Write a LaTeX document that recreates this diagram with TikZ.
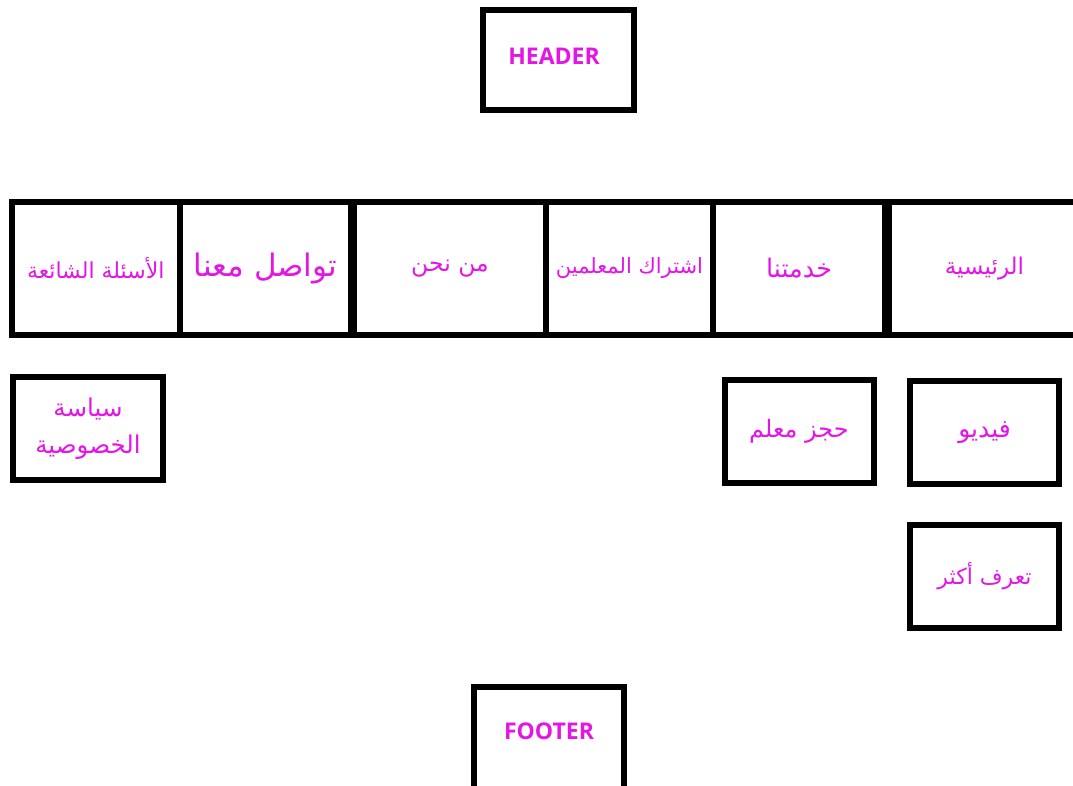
\documentclass[tikz,border=0pt]{standalone}
\usepackage{fontspec}
\setmainfont{Open Sans}
\newfontfamily\arabicfont[Script=Arabic]{DejaVu Sans}
\TeXXeTstate=1
\definecolor{mag}{RGB}{228,22,230}
\begin{document}
\begin{tikzpicture}[x=1pt,y=-1pt,
  box/.style={draw=black, line width=6pt, fill=white, inner sep=0pt, align=center, text=mag},
  ar/.style={font=\arabicfont\fontsize{#1}{37}\selectfont},
  lat/.style={font=\bfseries\fontsize{23}{28}\selectfont, text=mag}]
\useasboundingbox[fill=white] (0,0) rectangle (1073,786);
% header
\node[box, minimum width=151pt, minimum height=100pt] (header) at (558.5,60) {};
\node[lat] (headertext) at (554,56) {HEADER};
% navigation row
\node[box, ar=22, minimum width=168.5pt, minimum height=133pt] (faq) at (95.75,268.5) {\beginR الأسئلة الشائعة\endR};
\node[box, ar=31, minimum width=171pt, minimum height=133pt] (contact) at (265.5,268.5) {\beginR تواصل معنا\endR};
\node[box, ar=23.5, minimum width=192pt, minimum height=133pt] (about) at (450,268.5) {\beginR من نحن\endR};
\node[box, ar=21, minimum width=167pt, minimum height=133pt] (teachers) at (629.5,268.5) {\beginR اشتراك المعلمين\endR};
\node[box, ar=25.5, minimum width=172pt, minimum height=133pt] (services) at (799,268.5) {\beginR خدمتنا\endR};
\node[box, ar=23, minimum width=191pt, minimum height=133pt] (home) at (984.5,268.5) {\beginR الرئيسية\endR};
% sub boxes
\node[box, ar=24.5, minimum width=150pt, minimum height=103.5pt] (privacy) at (88,428.25) {\beginR سياسة\endR\\\beginR الخصوصية\endR};
\node[box, ar=24, minimum width=149pt, minimum height=102.5pt] (book) at (799,431.25) {\beginR حجز معلم\endR};
\node[box, ar=25, minimum width=149pt, minimum height=103.5pt] (video) at (984.5,432.25) {\beginR فيديو\endR};
\node[box, ar=22, minimum width=149pt, minimum height=102.5pt] (more) at (984.5,576.25) {\beginR تعرف أكثر\endR};
% footer
\node[box, minimum width=150pt, minimum height=120pt] (footer) at (549,747) {};
\node[lat] (footertext) at (549,731) {FOOTER};
\end{tikzpicture}
\end{document}
